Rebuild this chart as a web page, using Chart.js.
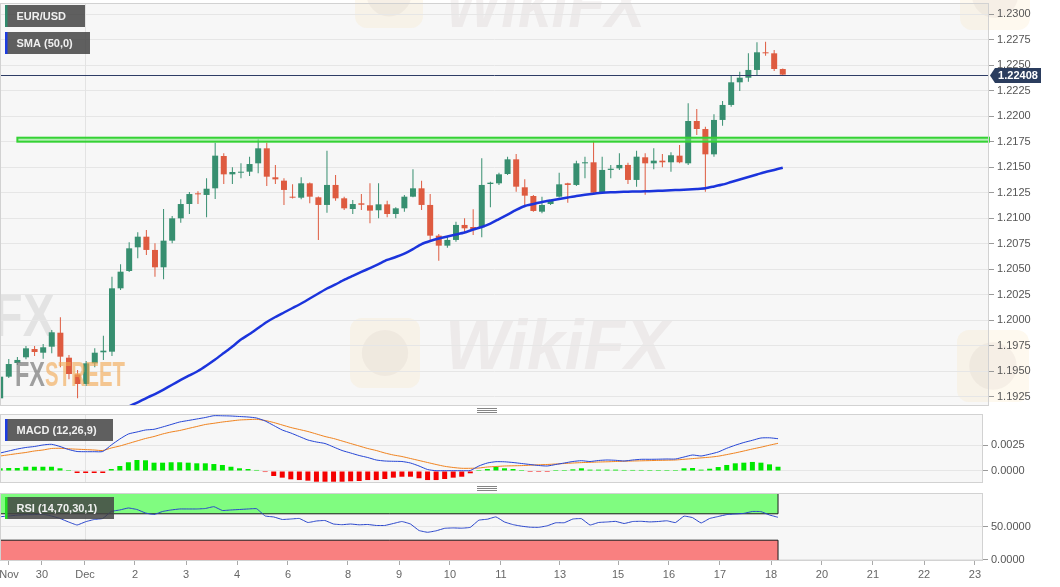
<!DOCTYPE html>
<html><head><meta charset="utf-8">
<script src="https://cdn.jsdelivr.net/npm/chart.js@4.4.0/dist/chart.umd.min.js"></script>
<style>
html,body{margin:0;padding:0;background:#fff;}
#wrap{position:relative;width:1060px;height:587px;overflow:hidden;background:#fff;}
canvas{position:absolute;left:0;}
</style></head><body>
<div id="wrap">
<canvas id="c1" style="top:0px" width="1060" height="407"></canvas>
<canvas id="c2" style="top:407px" width="1060" height="77"></canvas>
<canvas id="c3" style="top:485px" width="1060" height="102"></canvas>
</div>
<script>
// ---------------- DATA (EUR/USD, 4h candles) ----------------
const candleOpen = [1.19236,1.19448,1.19582,1.19638,1.19719,1.19683,1.19742,1.19879,1.19634,1.19471,
1.19376,1.19579,1.19687,1.19693,1.20314,1.20484,1.20716,1.20820,1.20690,1.20520,
1.20781,1.21000,1.21140,1.21245,1.21229,1.21294,1.21611,1.21431,1.21447,1.21457,
1.21539,1.21686,1.21402,1.21369,1.21212,1.21202,1.21343,1.21206,1.21131,1.21327,
1.21196,1.21091,1.21147,1.21128,1.21079,1.21137,1.21042,1.21098,1.21212,1.21294,
1.21131,1.20830,1.20732,1.20788,1.20935,1.20915,1.20912,1.21336,1.21343,1.21434,
1.21578,1.21304,1.21219,1.21065,1.21140,1.21212,1.21343,1.21327,1.21539,1.21549,
1.21251,1.21474,1.21490,1.21523,1.21376,1.21598,1.21539,1.21565,1.21549,1.21614,
1.21539,1.21954,1.21875,1.21627,1.21964,1.22111,1.22333,1.22378,1.22454,1.22627,
1.22617,1.22463];
const candleHigh = [1.19494,1.19621,1.19641,1.19749,1.19749,1.19768,1.19906,1.20030,1.19661,1.19514,
1.19602,1.19726,1.19850,1.20428,1.20549,1.20765,1.20863,1.20886,1.20755,1.21091,
1.21023,1.21186,1.21258,1.21265,1.21392,1.21741,1.21637,1.21500,1.21539,1.21604,
1.21774,1.21741,1.21523,1.21392,1.21333,1.21402,1.21351,1.21214,1.21663,1.21425,
1.21212,1.21180,1.21238,1.21343,1.21343,1.21173,1.21108,1.21229,1.21480,1.21369,
1.21238,1.20846,1.20827,1.20967,1.21000,1.21088,1.21588,1.21359,1.21447,1.21604,
1.21630,1.21382,1.21229,1.21212,1.21180,1.21447,1.21349,1.21565,1.21604,1.21761,
1.21604,1.21523,1.21637,1.21545,1.21663,1.21637,1.21686,1.21630,1.21647,1.21719,
1.22127,1.22071,1.21898,1.22019,1.22150,1.22398,1.22437,1.22617,1.22725,1.22731,
1.22650,1.22468];
const candleLow = [1.19220,1.19435,1.19563,1.19618,1.19651,1.19624,1.19677,1.19540,1.19422,1.19236,
1.19357,1.19540,1.19612,1.19651,1.20298,1.20474,1.20608,1.20641,1.20428,1.20402,
1.20755,1.20957,1.21042,1.21140,1.21010,1.21189,1.21336,1.21336,1.21392,1.21415,
1.21441,1.21317,1.21336,1.21131,1.21194,1.21186,1.21147,1.20788,1.21055,1.21173,
1.21082,1.21042,1.21082,1.20951,1.21000,1.21010,1.21000,1.21065,1.21206,1.21082,
1.20788,1.20585,1.20712,1.20771,1.20853,1.20837,1.20814,1.21108,1.21327,1.21425,
1.21261,1.21108,1.21065,1.21049,1.21131,1.21204,1.21153,1.21317,1.21392,1.21245,
1.21245,1.21392,1.21474,1.21336,1.21310,1.21231,1.21480,1.21500,1.21457,1.21539,
1.21523,1.21817,1.21261,1.21604,1.21908,1.22094,1.22248,1.22339,1.22398,1.22594,
1.22444,1.22395];
const candleClose = [1.19448,1.19572,1.19612,1.19726,1.19690,1.19736,1.19883,1.19644,1.19474,1.19376,
1.19579,1.19683,1.19703,1.20314,1.20477,1.20706,1.20820,1.20690,1.20520,1.20781,
1.21000,1.21140,1.21238,1.21235,1.21290,1.21614,1.21431,1.21454,1.21454,1.21532,
1.21686,1.21408,1.21382,1.21278,1.21202,1.21343,1.21212,1.21131,1.21327,1.21196,
1.21098,1.21140,1.21133,1.21075,1.21137,1.21042,1.21098,1.21212,1.21294,1.21131,
1.20830,1.20732,1.20788,1.20935,1.20902,1.20895,1.21327,1.21349,1.21431,1.21578,
1.21310,1.21222,1.21072,1.21131,1.21173,1.21333,1.21327,1.21539,1.21549,1.21251,
1.21474,1.21486,1.21523,1.21376,1.21604,1.21539,1.21565,1.21549,1.21618,1.21549,
1.21954,1.21875,1.21627,1.21964,1.22111,1.22333,1.22378,1.22454,1.22627,1.22617,
1.22463,1.22408];
const sma50 = [null,null,null,null,null,null,null,null,null,null,null,null,null,
1.19073,1.19117,1.19158,1.19197,1.19239,1.19278,1.19322,1.19369,1.19416,1.19460,
1.19504,1.19558,1.19616,1.19680,1.19744,1.19812,1.19866,1.19925,1.19984,1.20033,
1.20077,1.20121,1.20165,1.20214,1.20263,1.20312,1.20353,1.20396,1.20435,1.20474,
1.20513,1.20552,1.20592,1.20621,1.20655,1.20699,1.20748,1.20778,1.20802,1.20822,
1.20841,1.20861,1.20890,1.20915,1.20949,1.20993,1.21037,1.21082,1.21121,1.21140,
1.21160,1.21175,1.21189,1.21204,1.21219,1.21231,1.21241,1.21250,1.21255,1.21258,
1.21261,1.21263,1.21265,1.21268,1.21271,1.21275,1.21278,1.21282,1.21287,1.21294,
1.21312,1.21331,1.21356,1.21380,1.21405,1.21429,1.21454,1.21474,1.21496];
const macdLine = [0.001731,0.001923,0.002115,0.002260,0.002356,0.002500,0.002567,0.002356,0.002067,0.001875,
0.001856,0.001856,0.001875,0.002500,0.003077,0.003558,0.003750,0.003942,0.004010,0.004231,
0.004471,0.004711,0.004856,0.005000,0.005144,0.005317,0.005308,0.005288,0.005240,0.005192,
0.005096,0.004808,0.004375,0.003942,0.003654,0.003317,0.002981,0.002788,0.002644,0.002308,
0.001971,0.001731,0.001490,0.001298,0.001058,0.000962,0.000933,0.000913,0.000769,0.000481,
0.000144,0.000029,0.000029,0.000029,0.000029,0.000048,0.000481,0.000769,0.000894,0.000885,
0.000817,0.000721,0.000625,0.000529,0.000481,0.000625,0.000769,0.000913,0.000990,0.000913,
0.001010,0.001058,0.001029,0.000962,0.001058,0.001125,0.001125,0.001135,0.001154,0.001154,
0.001346,0.001538,0.001442,0.001615,0.001827,0.002183,0.002481,0.002740,0.002952,0.003173,
0.003192,0.003106];
const macdSignal = [0.001442,0.001558,0.001673,0.001779,0.001923,0.002019,0.002163,0.002183,0.002135,0.002096,
0.002058,0.002019,0.001971,0.002212,0.002404,0.002644,0.002885,0.003125,0.003317,0.003558,
0.003750,0.003894,0.004087,0.004279,0.004471,0.004587,0.004711,0.004808,0.004904,0.004942,
0.004971,0.004856,0.004663,0.004423,0.004183,0.003990,0.003798,0.003558,0.003317,0.003125,
0.002885,0.002644,0.002404,0.002163,0.001971,0.001731,0.001538,0.001394,0.001202,0.001010,
0.000817,0.000625,0.000452,0.000337,0.000260,0.000260,0.000288,0.000385,0.000433,0.000481,
0.000500,0.000519,0.000558,0.000596,0.000625,0.000673,0.000721,0.000769,0.000808,0.000837,
0.000865,0.000885,0.000913,0.000942,0.000962,0.000981,0.001000,0.001019,0.001038,0.001058,
0.001125,0.001192,0.001260,0.001327,0.001423,0.001577,0.001740,0.001923,0.002115,0.002288,
0.002481,0.002663];
const macdHist = [0.00026,0.00029,0.00029,0.00041,0.00041,0.00041,0.00041,0.00026,0.00003,-0.00019,
-0.00019,-0.00019,-0.00019,0.00019,0.00048,0.00084,0.00106,0.00103,0.00080,0.00080,
0.00084,0.00084,0.00080,0.00074,0.00074,0.00067,0.00058,0.00041,0.00026,0.00019,
0.00010,-0.00010,-0.00048,-0.00064,-0.00080,-0.00087,-0.00093,-0.00103,-0.00103,-0.00103,
-0.00103,-0.00099,-0.00096,-0.00087,-0.00087,-0.00077,-0.00064,-0.00055,-0.00055,-0.00070,
-0.00087,-0.00087,-0.00077,-0.00064,-0.00055,-0.00022,0.00003,0.00019,0.00041,0.00026,
0.00019,0.00005,-0.00003,-0.00005,-0.00007,0.00003,0.00005,0.00016,0.00026,0.00013,
0.00013,0.00013,0.00013,0.00010,0.00010,0.00010,0.00007,0.00007,0.00005,0.00005,
0.00026,0.00029,0.00013,0.00022,0.00038,0.00058,0.00074,0.00080,0.00087,0.00080,
0.00064,0.00041];
const rsi14 = [65.6,66.7,67.9,68.5,68.8,69.2,66.7,62.9,57.6,53.0,
58.0,61.4,62.9,73.5,75.8,78.8,76.5,71.2,68.9,73.5,
75.8,77.3,77.3,77.3,78.0,80.8,75.0,75.8,76.5,77.3,
77.7,66.7,65.2,61.4,62.1,62.9,56.8,59.1,59.8,54.5,
53.5,54.5,53.3,53.8,52.3,52.3,55.3,58.3,54.5,44.7,
42.0,44.2,48.0,48.6,48.2,49.5,60.3,61.8,65.3,57.6,
53.6,51.2,49.7,49.5,51.8,56.4,56.5,62.1,62.6,53.0,
56.8,57.6,58.5,55.3,58.3,58.6,57.7,58.3,59.4,56.7,
66.4,64.2,56.1,62.9,65.9,68.8,69.7,70.6,73.5,73.3,
68.2,64.7];
const priceTicks = [1.1925,1.1950,1.1975,1.2000,1.2025,1.2050,1.2075,1.2100,1.2125,1.2150,1.2175,1.2200,1.2225,1.2250,1.2275,1.2300];
const macdTicks = [0, 0.0025];
const rsiTicks = [0, 50];
const rsiLevels = [30, 70];
const dayLabels = ['Nov','30','Dec','2','3','4','6','8','9','10','11','13','15','16','17','18','20','21','22','23'];
const dayCandle = [1.03,4.89,9.92,15.77,21.74,27.71,33.67,40.69,46.66,52.62,58.59,65.49,72.28,78.24,84.21,90.18,96.14,102.11,108.08,114.04];
const resistanceZone = [1.21751, 1.21790];
const resistanceFromCandle = [2];

// ---------------- SETUP ----------------
const FONT = '"Liberation Sans", Arial, Helvetica, sans-serif';
Chart.defaults.font.family = FONT;
Chart.defaults.font.size = 11;
Chart.defaults.color = '#555';
Chart.defaults.animation = false;
Chart.defaults.events = [];
Chart.defaults.plugins.legend.display = false;
Chart.defaults.plugins.tooltip.enabled = false;

const X_MIN = -0.02, X_MAX = 114.98;
const idx = candleClose.map((_, i) => i);
const lastIdx = idx.length - 1;
const UP = '#378f70', DN = '#de5b40';
const candleCol = idx.map(i => candleClose[i] >= candleOpen[i] ? UP : DN);

function xHidden() {
  return { type: 'linear', min: X_MIN, max: X_MAX, offset: false, display: false };
}
function yAxis(min, max, ticks, width, digits) {
  return {
    position: 'right', min, max,
    afterBuildTicks: s => { s.ticks = ticks.map(v => ({ value: v })); },
    afterFit: s => { s.width = width; s.paddingTop = 0; s.paddingBottom = 0; },
    ticks: { callback: v => Number(v).toFixed(digits), padding: 3, color: '#555', font: { size: 11 } },
    grid: { color: '#e6e6e6', tickColor: '#9a9a9a', tickLength: 5 },
    border: { display: false }
  };
}
function paintBg(chart) {
  const { ctx, chartArea: a } = chart;
  ctx.fillStyle = '#ffffff'; ctx.fillRect(0, 0, chart.width, chart.height);
  ctx.fillStyle = '#f7f7f7'; ctx.fillRect(a.left, a.top, a.right - a.left, a.bottom - a.top);
}
function paintBorder(chart) {
  const { ctx, chartArea: a } = chart;
  ctx.save(); ctx.strokeStyle = '#d2d2d2'; ctx.lineWidth = 1;
  ctx.strokeRect(Math.round(a.left) + 0.5, Math.round(a.top) + 0.5, Math.round(a.right - a.left) - 1, Math.round(a.bottom - a.top) - 1);
  ctx.restore();
}
function monthLine(chart) {
  const { ctx, chartArea: a, scales } = chart;
  const x = Math.round(scales.x.getPixelForValue(dayCandle[2])) + 0.5;
  ctx.save(); ctx.strokeStyle = '#e3e3e3'; ctx.lineWidth = 1;
  ctx.beginPath(); ctx.moveTo(x, a.top); ctx.lineTo(x, a.bottom); ctx.stroke(); ctx.restore();
}
function labelBox(ctx, x, y, w, h, stripe, text) {
  ctx.save();
  ctx.fillStyle = 'rgba(66,66,66,0.84)'; ctx.fillRect(x, y, w, h);
  ctx.fillStyle = stripe; ctx.fillRect(x, y, 2.5, h);
  ctx.fillStyle = '#f0f0f0'; ctx.font = 'bold 11px ' + FONT; ctx.textBaseline = 'middle'; ctx.textAlign = 'left';
  ctx.fillText(text, x + 11.5, y + h / 2 + 0.5);
  ctx.restore();
}
function handle(ctx, cx, y) {
  ctx.save(); ctx.strokeStyle = '#858585'; ctx.lineWidth = 1;
  for (let k = 0; k < 3; k++) { ctx.beginPath(); ctx.moveTo(cx - 10, y + k * 2 + 0.5); ctx.lineTo(cx + 10, y + k * 2 + 0.5); ctx.stroke(); }
  ctx.restore();
}
function logo(ctx, x, y, s) {
  ctx.save();
  ctx.fillStyle = 'rgba(246,214,150,0.15)';
  ctx.beginPath(); if (ctx.roundRect) ctx.roundRect(x, y, s, s, 12); else ctx.rect(x, y, s, s); ctx.fill();
  ctx.fillStyle = 'rgba(150,130,130,0.08)';
  ctx.beginPath(); ctx.arc(x + s / 2, y + s / 2, s * 0.33, 0, Math.PI * 2); ctx.fill();
  ctx.restore();
}

// ---------------- PRICE CHART ----------------
const mainDeco = {
  id: 'mainDeco',
  beforeDraw(chart) {
    const ctx = chart.ctx;
    ctx.save();
    paintBg(chart);
    logo(ctx, 350, 318, 70); logo(ctx, 355, -40, 68); logo(ctx, 960, -40, 70); logo(ctx, 957, 330, 72);
    ctx.fillStyle = 'rgba(165,135,135,0.11)';
    ctx.font = 'italic bold 70px ' + FONT; ctx.textBaseline = 'alphabetic';
    ctx.fillText('WikiFX', 445, 369, 225);
    ctx.fillText('WikiFX', 445, 27, 200);
    ctx.fillStyle = 'rgba(150,150,150,0.2)';
    ctx.font = 'bold 62px ' + FONT;
    ctx.fillText('FX', -7, 336, 62);
    ctx.restore();
  },
  beforeDatasetsDraw(chart) { monthLine(chart); },
  afterDatasetsDraw(chart) {
    const { ctx, chartArea: a, scales: { x, y } } = chart;
    ctx.save();
    // FXSTREET watermark
    ctx.font = 'bold 35px ' + FONT; ctx.textBaseline = 'alphabetic';
    ctx.fillStyle = 'rgba(125,125,125,0.72)'; ctx.fillText('FX', 15, 386, 30);
    ctx.fillStyle = 'rgba(242,168,82,0.62)'; ctx.fillText('STREET', 45, 386, 80);
    // resistance zone
    const zx = x.getPixelForValue(resistanceFromCandle[0]);
    const y1 = y.getPixelForValue(resistanceZone[1]), y2 = y.getPixelForValue(resistanceZone[0]);
    ctx.fillStyle = 'rgba(130,232,130,0.55)';
    ctx.fillRect(zx, y1, a.right - zx, y2 - y1);
    ctx.strokeStyle = '#35d235'; ctx.lineWidth = 2;
    ctx.strokeRect(zx, y1, a.right - zx, y2 - y1);
    // last price line
    const py = Math.round(y.getPixelForValue(candleClose[lastIdx])) + 0.5;
    ctx.strokeStyle = '#2e3d66'; ctx.lineWidth = 1;
    ctx.beginPath(); ctx.moveTo(a.left, py); ctx.lineTo(a.right, py); ctx.stroke();
    ctx.restore();
  },
  afterDraw(chart) {
    const { ctx, chartArea: a, scales: { y } } = chart;
    paintBorder(chart);
    ctx.save();
    const py = Math.round(y.getPixelForValue(candleClose[lastIdx]));
    ctx.fillStyle = '#2b3d5e';
    ctx.beginPath();
    ctx.moveTo(a.right + 1, py + 0.5); ctx.lineTo(a.right + 6, py - 7); ctx.lineTo(1041, py - 7);
    ctx.lineTo(1041, py + 8); ctx.lineTo(a.right + 6, py + 8); ctx.closePath(); ctx.fill();
    ctx.fillStyle = '#ffffff'; ctx.font = 'bold 11px ' + FONT; ctx.textAlign = 'center'; ctx.textBaseline = 'middle';
    ctx.fillText(candleClose[lastIdx].toFixed(5), 1018, py + 1);
    ctx.restore();
    labelBox(ctx, 5, 5, 80, 22, '#2f8a6c', 'EUR/USD');
    labelBox(ctx, 5, 32, 85, 22, '#1d3ce0', 'SMA (50,0)');
  }
};

new Chart(document.getElementById('c1'), {
  type: 'bar',
  data: {
    datasets: [
      { type: 'line', label: 'SMA (50,0)', order: 0, data: idx.map(i => ({ x: i, y: sma50[i] })),
        borderColor: '#1b34dc', borderWidth: 2.5, pointRadius: 0, tension: 0.2, clip: 0 },
      { type: 'bar', label: 'body', order: 1, grouped: false, barThickness: 6, minBarLength: 1, inflateAmount: 0,
        data: idx.map(i => ({ x: i, y: [Math.min(candleOpen[i], candleClose[i]), Math.max(candleOpen[i], candleClose[i])] })),
        backgroundColor: candleCol, borderWidth: 0 },
      { type: 'bar', label: 'wick', order: 2, grouped: false, barThickness: 1, inflateAmount: 0,
        data: idx.map(i => ({ x: i, y: [candleLow[i], candleHigh[i]] })),
        backgroundColor: candleCol, borderWidth: 0 }
    ]
  },
  options: {
    responsive: false, maintainAspectRatio: false,
    layout: { padding: { top: 3, bottom: 1, left: 0, right: 0 } },
    scales: { x: xHidden(), y: yAxis(1.191607, 1.231101, priceTicks, 71, 4) }
  },
  plugins: [mainDeco]
});

// ---------------- MACD ----------------
const macdDeco = {
  id: 'macdDeco',
  beforeDraw(chart) { chart.ctx.save(); paintBg(chart); chart.ctx.restore(); },
  beforeDatasetsDraw(chart) { monthLine(chart); },
  afterDraw(chart) {
    paintBorder(chart);
    handle(chart.ctx, 487, 1);
    labelBox(chart.ctx, 5, 12, 108, 22, '#1d3ce0', 'MACD (12,26,9)');
  }
};
new Chart(document.getElementById('c2'), {
  type: 'bar',
  data: {
    datasets: [
      { type: 'line', order: 0, data: idx.map(i => ({ x: i, y: macdLine[i] })), borderColor: '#2646d6', borderWidth: 1, pointRadius: 0, tension: 0.2, clip: 0 },
      { type: 'line', order: 1, data: idx.map(i => ({ x: i, y: macdSignal[i] })), borderColor: '#f0831f', borderWidth: 1, pointRadius: 0, tension: 0.2, clip: 0 },
      { type: 'bar', order: 2, grouped: false, barThickness: 5, minBarLength: 1, inflateAmount: 0,
        data: idx.map(i => ({ x: i, y: macdHist[i] })),
        backgroundColor: idx.map(i => macdHist[i] >= 0 ? '#00e800' : '#f40000'), borderWidth: 0 }
    ]
  },
  options: {
    responsive: false, maintainAspectRatio: false,
    layout: { padding: { top: 7, bottom: 1, left: 0, right: 0 } },
    scales: { x: xHidden(), y: yAxis(-0.001154, 0.005481, macdTicks, 77, 4) }
  },
  plugins: [macdDeco]
});

// ---------------- RSI ----------------
const rsiDeco = {
  id: 'rsiDeco',
  beforeDraw(chart) { chart.ctx.save(); paintBg(chart); chart.ctx.restore(); },
  beforeDatasetsDraw(chart) {
    const { ctx, chartArea: a, scales: { x, y } } = chart;
    monthLine(chart);
    const xl = a.left, xr = x.getPixelForValue(lastIdx);
    const yTop = y.getPixelForValue(100), y70 = y.getPixelForValue(rsiLevels[1]);
    const y30 = y.getPixelForValue(rsiLevels[0]), y0 = y.getPixelForValue(0);
    ctx.save();
    ctx.fillStyle = '#80fc80'; ctx.fillRect(xl, yTop, xr - xl, y70 - yTop);
    ctx.fillStyle = '#f98080'; ctx.fillRect(xl, y30, xr - xl, y0 - y30);
    ctx.strokeStyle = '#1a1a1a'; ctx.lineWidth = 1;
    ctx.beginPath();
    ctx.moveTo(xl + 0.5, yTop); ctx.lineTo(xl + 0.5, y70); ctx.lineTo(xr, y70); ctx.lineTo(xr, yTop);
    ctx.moveTo(xl + 0.5, y0); ctx.lineTo(xl + 0.5, y30); ctx.lineTo(xr, y30); ctx.lineTo(xr, y0);
    ctx.stroke();
    ctx.restore();
  },
  afterDraw(chart) {
    paintBorder(chart);
    handle(chart.ctx, 487, 1);
    labelBox(chart.ctx, 5, 12, 109, 22, '#22dd22', 'RSI (14,70,30,1)');
  }
};
new Chart(document.getElementById('c3'), {
  type: 'line',
  data: {
    datasets: [
      { data: idx.map(i => ({ x: i, y: rsi14[i] })), borderColor: '#2a46cc', borderWidth: 1, pointRadius: 0, tension: 0.1, clip: 0 }
    ]
  },
  options: {
    responsive: false, maintainAspectRatio: false,
    layout: { padding: { top: 8, bottom: 0, left: 0, right: 0 } },
    scales: {
      x: {
        type: 'linear', min: X_MIN, max: X_MAX, offset: false,
        afterBuildTicks: s => { s.ticks = dayCandle.map(v => ({ value: v })); },
        afterFit: s => { s.height = 26; s.paddingLeft = 0; s.paddingRight = 0; },
        ticks: { autoSkip: false, maxRotation: 0, minRotation: 0, padding: 3, color: '#666', font: { size: 11 }, callback: (v, i) => dayLabels[i] },
        grid: { drawOnChartArea: false, tickLength: 4, tickColor: '#aaaaaa' },
        border: { display: false }
      },
      y: yAxis(-1.52, 101.5, rsiTicks, 77, 4)
    }
  },
  plugins: [rsiDeco]
});
</script>
</body></html>
